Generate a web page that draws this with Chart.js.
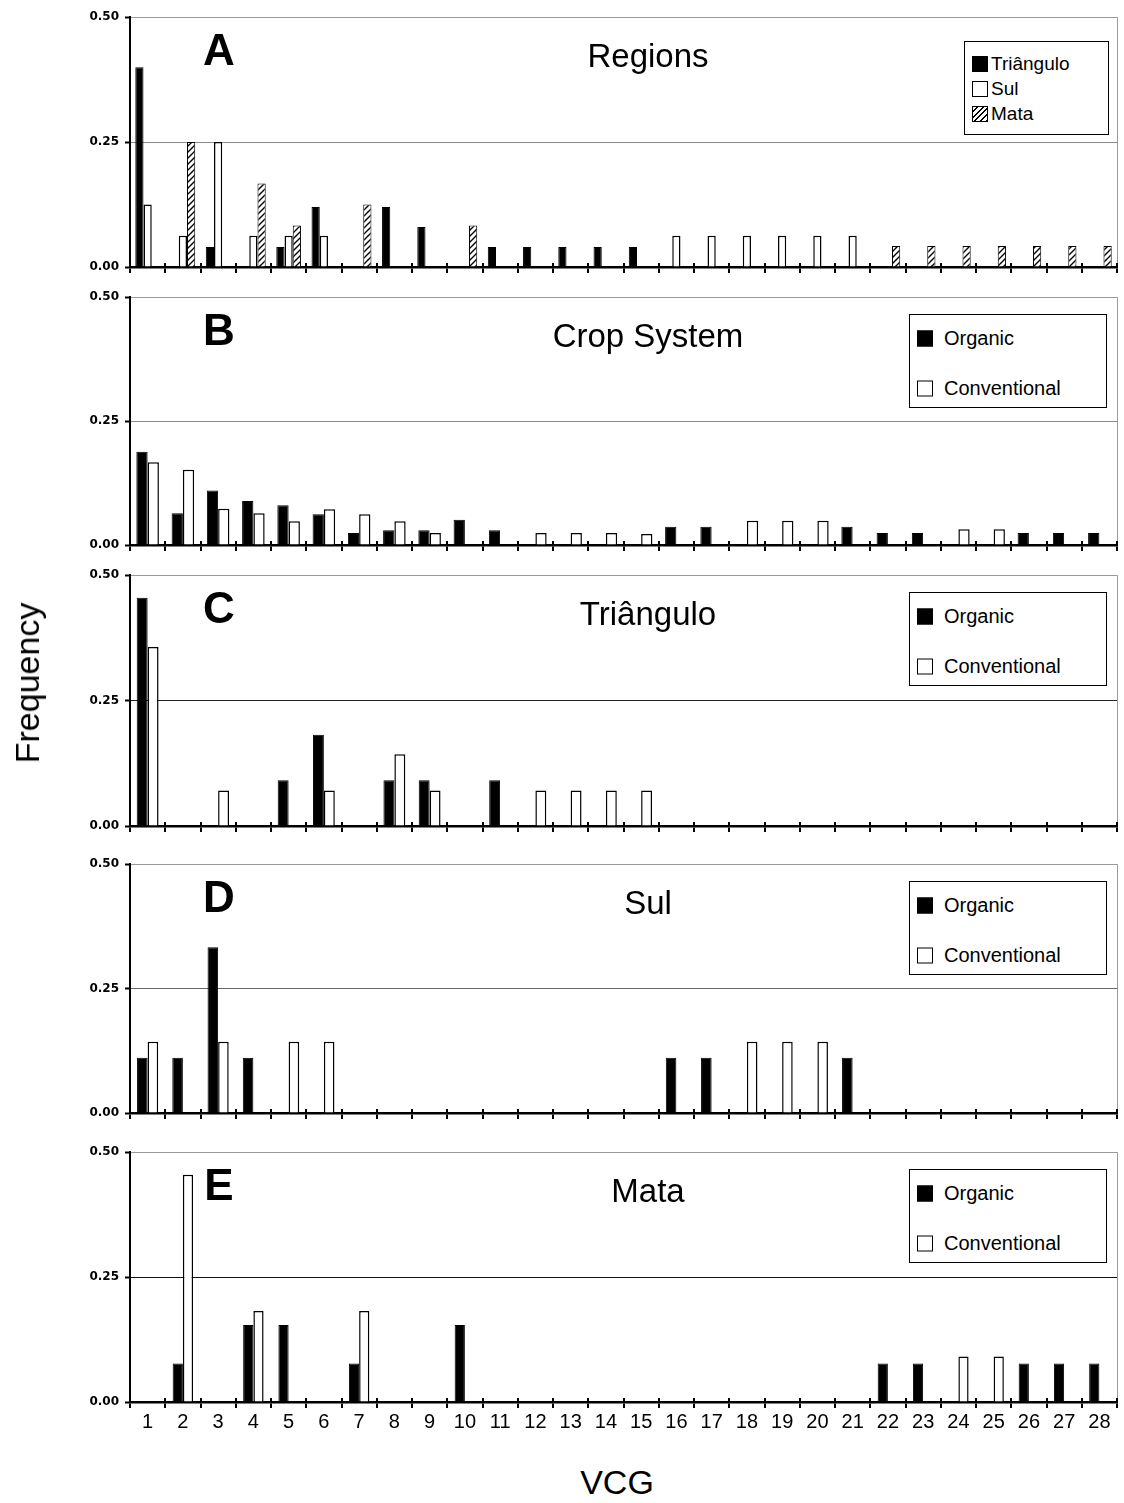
<!DOCTYPE html>
<html>
<head>
<meta charset="utf-8">
<script src="https://cdn.jsdelivr.net/npm/chart.js@4.4.1/dist/chart.umd.min.js"></script>
<style>
  body { margin: 0; background: #fff; }
  #page { position: relative; width: 1124px; height: 1503px; font-family: "Liberation Sans", Arial, sans-serif; color: #000; overflow: hidden; }
  #page canvas { position: absolute; left: 0; }
  .txt { position: absolute; white-space: nowrap; transform: translate(-50%, -50%); line-height: 1; }
  .letter { font-weight: bold; font-size: 44px; }
  .title { font-size: 33px; }
  .axis-title { font-size: 34px; }
  .legend { position: absolute; border: 1px solid #000; background: #fff; box-sizing: border-box; }
  .legend .row { position: absolute; left: 7px; display: flex; align-items: center; transform: translateY(-50%); white-space: nowrap; }
  .legend .sw { box-sizing: border-box; margin-right: 4px; }
</style>
</head>
<body>
<div id="page"></div>
<script>
// VCG categories
const vcgLabels = ['1','2','3','4','5','6','7','8','9','10','11','12','13','14','15','16','17','18','19','20','21','22','23','24','25','26','27','28'];
const yTicks = [0, 0.25, 0.5];

// A - Regions
const regTriangulo = [0.40,0,0.04,0,0.04,0.12,0,0.12,0.08,0,0.04,0.04,0.04,0.04,0.04,0,0,0,0,0,0,0,0,0,0,0,0,0];
const regSul       = [0.125,0.0625,0.25,0.0625,0.0625,0.0625,0,0,0,0,0,0,0,0,0,0.0625,0.0625,0.0625,0.0625,0.0625,0.0625,0,0,0,0,0,0,0];
const regMata      = [0,0.25,0,0.167,0.083,0,0.125,0,0,0.083,0,0,0,0,0,0,0,0,0,0,0,0.042,0.042,0.042,0.042,0.042,0.042,0.042];

// B - Crop system
const cropOrganic      = [0.188,0.064,0.110,0.089,0.080,0.062,0.024,0.030,0.030,0.051,0.030,0,0,0,0,0.037,0.037,0,0,0,0.037,0.024,0.024,0,0,0.024,0.024,0.024];
const cropConventional = [0.167,0.152,0.073,0.064,0.048,0.072,0.062,0.048,0.024,0,0,0.024,0.024,0.024,0.022,0,0,0.049,0.049,0.049,0,0,0,0.032,0.032,0,0,0];

// C - Triângulo
const triOrganic      = [0.455,0,0,0,0.091,0.182,0,0.091,0.091,0,0.091,0,0,0,0,0,0,0,0,0,0,0,0,0,0,0,0,0];
const triConventional = [0.357,0,0.071,0,0,0.071,0,0.143,0.071,0,0,0.071,0.071,0.071,0.071,0,0,0,0,0,0,0,0,0,0,0,0,0];

// D - Sul
const sulOrganic      = [0.111,0.111,0.333,0.111,0,0,0,0,0,0,0,0,0,0,0,0.111,0.111,0,0,0,0.111,0,0,0,0,0,0,0];
const sulConventional = [0.143,0,0.143,0,0.143,0.143,0,0,0,0,0,0,0,0,0,0,0,0.143,0.143,0.143,0,0,0,0,0,0,0,0];

// E - Mata
const mataOrganic      = [0,0.077,0,0.154,0.154,0,0.077,0,0,0.154,0,0,0,0,0,0,0,0,0,0,0,0.077,0.077,0,0,0.077,0.077,0.077];
const mataConventional = [0,0.455,0,0.182,0,0,0.182,0,0,0,0,0,0,0,0,0,0,0,0,0,0,0,0,0.091,0.091,0,0,0];

const panels = [
  { key: 'A', top: 16,   bottom: 267,  title: 'Regions',     midGrid: '#8a8a8a', cat: 0.70,
    series: [['Triângulo', regTriangulo, 'solid'], ['Sul', regSul, 'open'], ['Mata', regMata, 'hatch']] },
  { key: 'B', top: 296,  bottom: 545,  title: 'Crop System', midGrid: '#8a8a8a', cat: 0.64,
    series: [['Organic', cropOrganic, 'solid'], ['Conventional', cropConventional, 'open']] },
  { key: 'C', top: 574,  bottom: 826,  title: 'Triângulo',   midGrid: '#222', cat: 0.62,
    series: [['Organic', triOrganic, 'solid'], ['Conventional', triConventional, 'open']] },
  { key: 'D', top: 863,  bottom: 1113, title: 'Sul',         midGrid: '#666', cat: 0.60,
    series: [['Organic', sulOrganic, 'solid'], ['Conventional', sulConventional, 'open']] },
  { key: 'E', top: 1151, bottom: 1402, title: 'Mata',        midGrid: '#111', cat: 0.58,
    series: [['Organic', mataOrganic, 'solid'], ['Conventional', mataConventional, 'open']] }
];

const page = document.getElementById('page');

function hatchPattern() {
  const c = document.createElement('canvas');
  c.width = 6; c.height = 6;
  const g = c.getContext('2d');
  g.fillStyle = '#fff';
  g.fillRect(0, 0, 6, 6);
  g.strokeStyle = '#000';
  g.lineWidth = 1.4;
  g.beginPath();
  g.moveTo(-1, 7); g.lineTo(7, -1);
  g.moveTo(-1, 1); g.lineTo(1, -1);
  g.moveTo(5, 7); g.lineTo(7, 5);
  g.stroke();
  return g.createPattern(c, 'repeat');
}
const hatch = hatchPattern();

function barStyle(kind) {
  if (kind === 'solid') return { backgroundColor: '#000', borderColor: '#000', borderWidth: 1 };
  if (kind === 'open') return { backgroundColor: '#fff', borderColor: '#000', borderWidth: 1.5 };
  return { backgroundColor: hatch, borderColor: '#000', borderWidth: 1 };
}

function swatchCss(kind) {
  if (kind === 'solid') return 'background:#000;border:1px solid #000;';
  if (kind === 'open') return 'background:#fff;border:1px solid #000;';
  return 'background:repeating-linear-gradient(135deg,#fff 0 2.5px,#000 2.5px 4px);border:1px solid #000;';
}

// grey frame on the right side of the plot, plus tick marks crossing the x axis
const framePlugin = {
  id: 'frame',
  afterDraw(chart) {
    const a = chart.chartArea, g = chart.ctx;
    g.save();
    g.strokeStyle = '#999';
    g.lineWidth = 1;
    g.beginPath();
    g.moveTo(a.right + 0.5, a.top);
    g.lineTo(a.right + 0.5, a.bottom);
    g.stroke();
    const x = chart.scales.x;
    const n = x.ticks.length;
    const w = (x.right - x.left) / n;
    g.strokeStyle = '#000';
    g.lineWidth = 2;
    g.beginPath();
    for (let i = 0; i <= n; i++) {
      const px = Math.round(x.left + i * w);
      g.moveTo(px, a.bottom - 4);
      g.lineTo(px, a.bottom);
    }
    g.stroke();
    g.restore();
  }
};

panels.forEach((p, idx) => {
  const last = idx === panels.length - 1;
  const padTop = 12;
  const xh = last ? 42 : 16;
  const h = (p.bottom - p.top) + padTop + xh;

  const cv = document.createElement('canvas');
  cv.width = 1124; cv.height = h;
  cv.style.top = (p.top - padTop) + 'px';
  page.appendChild(cv);

  new Chart(cv, {
    type: 'bar',
    data: {
      labels: vcgLabels,
      datasets: p.series.map(s => Object.assign({
        label: s[0],
        data: s[1].map(v => v === 0 ? null : v),
        categoryPercentage: p.cat,
        barPercentage: 1.0,
        borderSkipped: 'start'
      }, barStyle(s[2])))
    },
    options: {
      responsive: false,
      animation: false,
      layout: { padding: { top: padTop, right: 7, left: 0, bottom: 0 } },
      plugins: { legend: { display: false }, tooltip: { enabled: false } },
      scales: {
        x: {
          offset: true,
          afterFit(s) { s.height = xh; },
          grid: { offset: true, drawOnChartArea: false, tickLength: 6, color: '#000', lineWidth: 2 },
          border: { color: '#000', width: 2.5 },
          ticks: {
            display: last, autoSkip: false, maxRotation: 0, color: '#000', padding: 2,
            font: { family: '"Liberation Sans", Arial, sans-serif', size: 20 }
          }
        },
        y: {
          min: 0, max: 0.5,
          afterFit(s) { s.width = 130; },
          afterBuildTicks(s) { s.ticks = yTicks.map(v => ({ value: v })); },
          grid: {
            color: c => c.tick.value === 0 ? '#000' : (c.tick.value === 0.25 ? p.midGrid : '#9a9a9a'),
            lineWidth: 1, tickLength: 5, tickColor: '#000', tickWidth: 2
          },
          border: { color: '#000', width: 2 },
          ticks: {
            color: '#000', padding: 6,
            font: { family: '"DejaVu Sans", sans-serif', size: 12, weight: 'bold' },
            callback: v => v.toFixed(2)
          }
        }
      }
    },
    plugins: [framePlugin]
  });

  // panel letter and title
  const letter = document.createElement('div');
  letter.className = 'txt letter';
  letter.textContent = p.key;
  letter.style.left = '219px';
  letter.style.top = (p.top + 34) + 'px';
  page.appendChild(letter);

  const title = document.createElement('div');
  title.className = 'txt title';
  title.textContent = p.title;
  title.style.left = '648px';
  title.style.top = (p.top + 39) + 'px';
  page.appendChild(title);

  // legend box
  const lg = document.createElement('div');
  lg.className = 'legend';
  if (p.key === 'A') {
    Object.assign(lg.style, { left: '964px', top: '41px', width: '145px', height: '94px' });
    p.series.forEach((s, i) => {
      const r = document.createElement('div');
      r.className = 'row';
      r.style.top = (22 + i * 25) + 'px';
      r.style.fontSize = '19px';
      r.innerHTML = '<span class="sw" style="width:16px;height:16px;margin-right:3px;' + swatchCss(s[2]) + '"></span>';
      r.appendChild(document.createTextNode(s[0]));
      lg.appendChild(r);
    });
  } else {
    Object.assign(lg.style, { left: '909px', top: (p.top + 18) + 'px', width: '198px', height: '94px' });
    p.series.forEach((s, i) => {
      const r = document.createElement('div');
      r.className = 'row';
      r.style.top = (23 + i * 50) + 'px';
      r.style.fontSize = '20px';
      r.innerHTML = '<span class="sw" style="width:16px;height:16px;margin-right:11px;' + swatchCss(s[2]) + '"></span>';
      r.appendChild(document.createTextNode(s[0]));
      lg.appendChild(r);
    });
  }
  page.appendChild(lg);
});

// shared axis titles
const yTitle = document.createElement('div');
yTitle.className = 'txt axis-title';
yTitle.textContent = 'Frequency';
yTitle.style.left = '27px';
yTitle.style.top = '683px';
yTitle.style.transform = 'translate(-50%, -50%) rotate(-90deg)';
page.appendChild(yTitle);

const xTitle = document.createElement('div');
xTitle.className = 'txt axis-title';
xTitle.textContent = 'VCG';
xTitle.style.left = '617px';
xTitle.style.top = '1482px';
page.appendChild(xTitle);
</script>
</body>
</html>
